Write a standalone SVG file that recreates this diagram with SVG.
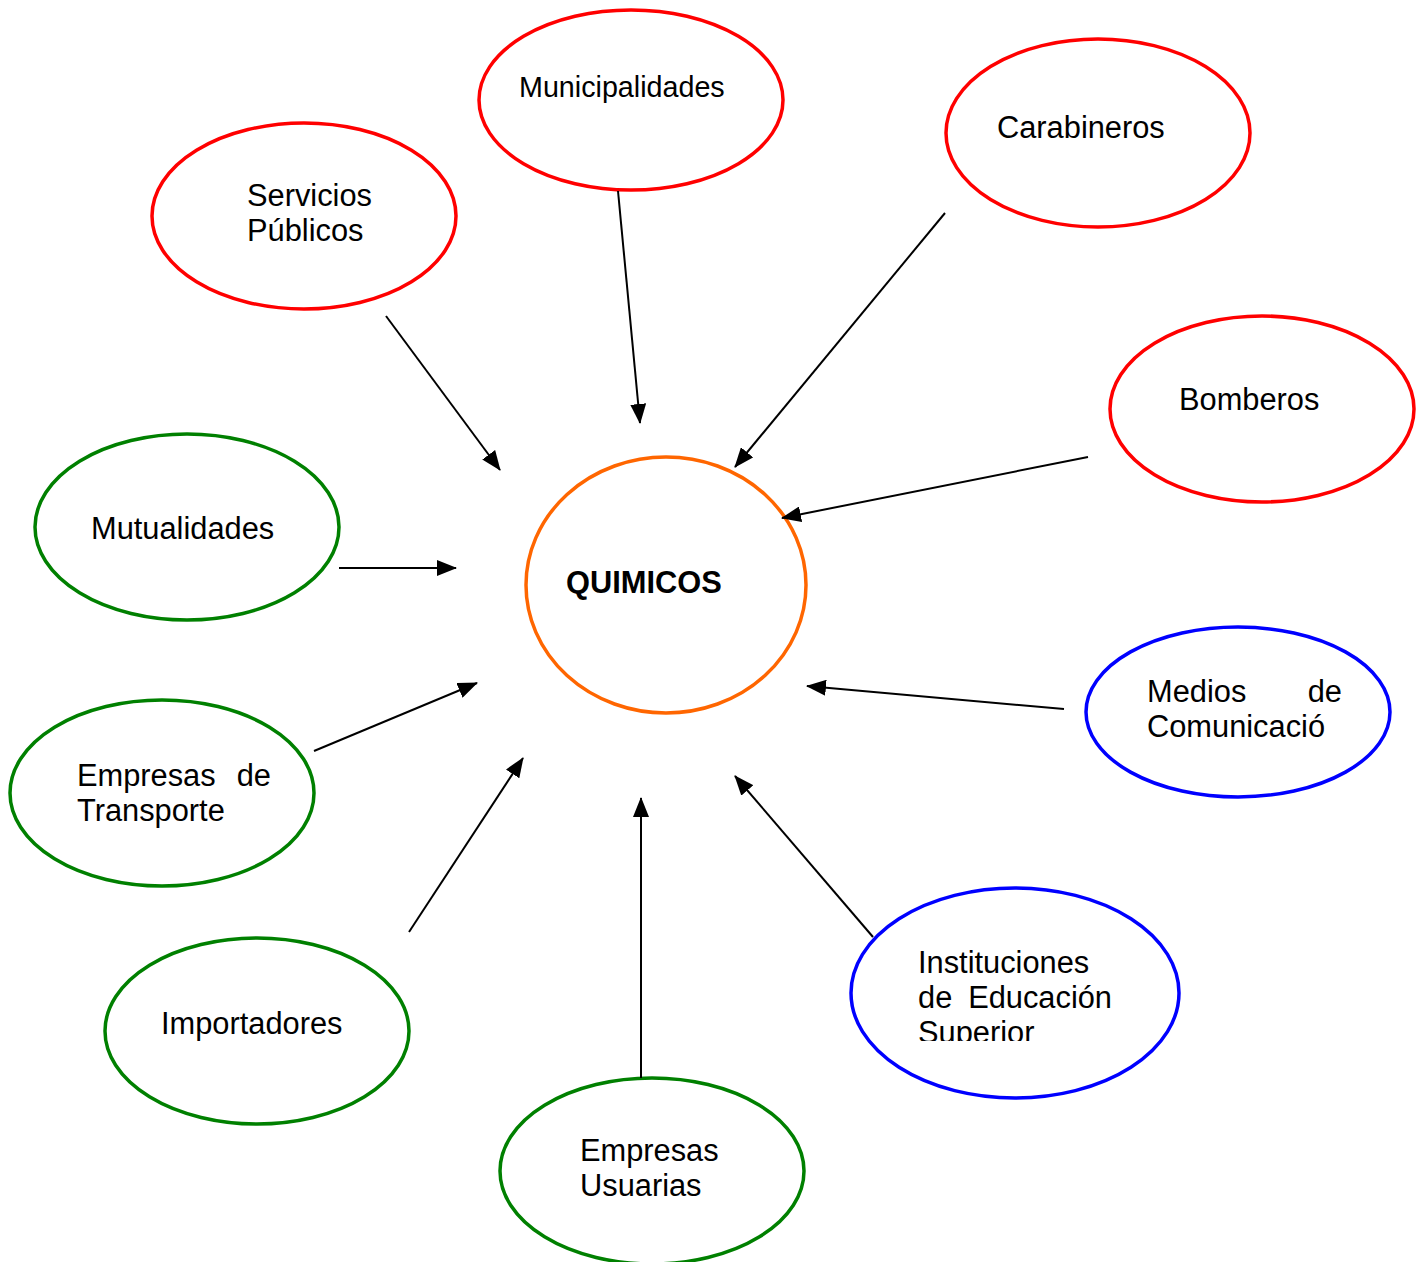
<svg xmlns="http://www.w3.org/2000/svg" width="1425" height="1262" viewBox="0 0 1425 1262">
<style>
.n{fill:#fff;stroke-width:3.5}
.r{stroke:#FF0000}
.g{stroke:#008000}
.b{stroke:#0000FF}
.o{stroke:#FF6600}
text{font-family:"Liberation Sans",Arial,sans-serif;font-size:30.8px;fill:#000}
.c line{stroke:#000;stroke-width:2;marker-end:url(#ah)}
</style>
<defs>
<marker id="ah" markerUnits="userSpaceOnUse" markerWidth="20" markerHeight="16" viewBox="0 0 20 16" refX="19" refY="8" orient="auto">
<path d="M0,0 L20,8 L0,16 z" fill="#000"/>
</marker>
<clipPath id="clipI"><rect x="850" y="930" width="330" height="111"/></clipPath>
</defs>
<rect width="1425" height="1262" fill="#fff"/>
<g id="servicios"><ellipse class="n r" cx="304" cy="216" rx="152" ry="93"/><text x="247" y="206">Servicios</text><text x="247" y="241">Públicos</text></g>
<g id="municipalidades"><ellipse class="n r" cx="631" cy="100" rx="152" ry="90"/><text x="519" y="97" style="font-size:28.7px">Municipalidades</text></g>
<g id="carabineros"><ellipse class="n r" cx="1098" cy="133" rx="152" ry="94"/><text x="997" y="138">Carabineros</text></g>
<g id="bomberos"><ellipse class="n r" cx="1262" cy="409" rx="152" ry="93"/><text x="1179" y="410">Bomberos</text></g>
<g id="mutualidades"><ellipse class="n g" cx="187" cy="527" rx="152" ry="93"/><text x="91" y="539">Mutualidades</text></g>
<g id="quimicos"><ellipse class="n o" cx="666" cy="585" rx="140" ry="128"/><text x="566" y="593" style="font-weight:bold">QUIMICOS</text></g>
<g id="medios"><ellipse class="n b" cx="1238" cy="712" rx="152" ry="85"/><text x="1147" y="702">Medios</text><text x="1342" y="702" text-anchor="end">de</text><text x="1147" y="737">Comunicació</text></g>
<g id="transporte"><ellipse class="n g" cx="162" cy="793" rx="152" ry="93"/><text x="77" y="786">Empresas</text><text x="271" y="786" text-anchor="end">de</text><text x="77" y="821">Transporte</text></g>
<g id="instituciones"><ellipse class="n b" cx="1015" cy="993" rx="164" ry="105"/><g clip-path="url(#clipI)"><text x="918" y="973">Instituciones</text><text x="918" y="1008">de</text><text x="1112" y="1008" text-anchor="end">Educación</text><text x="918" y="1043">Superior</text></g></g>
<g id="importadores"><ellipse class="n g" cx="257" cy="1031" rx="152" ry="93"/><text x="161" y="1034">Importadores</text></g>
<g id="usuarias"><ellipse class="n g" cx="652" cy="1171" rx="152" ry="93"/><text x="580" y="1161">Empresas</text><text x="580" y="1196">Usuarias</text></g>
<g id="connectors" class="c">
<line x1="386" y1="316" x2="500" y2="470"/>
<line x1="618" y1="191" x2="640" y2="423"/>
<line x1="945" y1="213" x2="735" y2="467"/>
<line x1="1088" y1="457" x2="782" y2="518"/>
<line x1="339" y1="568" x2="456" y2="568"/>
<line x1="1064" y1="709" x2="807" y2="686"/>
<line x1="314" y1="751" x2="477" y2="683"/>
<line x1="409" y1="932" x2="523" y2="758"/>
<line x1="641" y1="1078" x2="641" y2="798"/>
<line x1="873" y1="937" x2="735" y2="776"/>
</g>
</svg>
